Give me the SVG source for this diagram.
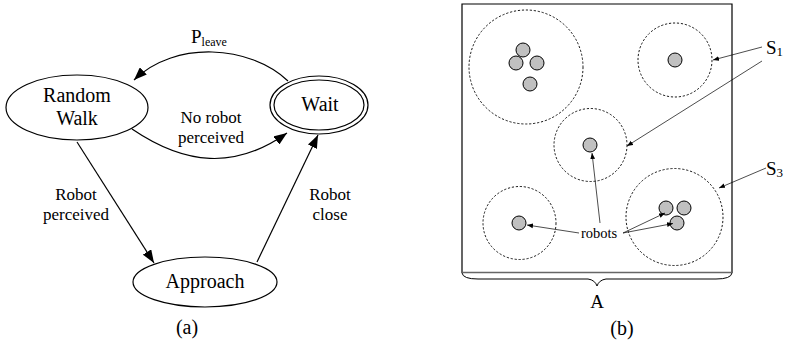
<svg xmlns="http://www.w3.org/2000/svg" width="786" height="350" viewBox="0 0 786 350">
  <style>
    .state { fill: #fff; stroke: #000; stroke-width: 1.2; }
    .lbl { font-family: 'Liberation Serif', 'Times New Roman', serif; fill: #000; }
    .edge { fill: none; stroke: #000; stroke-width: 1.2; }
    .thin { fill: none; stroke: #000; stroke-width: 0.7; }
    .zone { fill: none; stroke: #000; stroke-width: 0.9; stroke-dasharray: 2.2 1.8; }
    .robot { fill: #c0c0c0; stroke: #000; stroke-width: 1; }
  </style>
  <defs>
    <marker id="arr" markerUnits="userSpaceOnUse" markerWidth="14" markerHeight="10" refX="13" refY="5" orient="auto">
      <path d="M0,0 L13,5 L0,10 Z" fill="#000"/>
    </marker>
    <marker id="arrSmall" markerUnits="userSpaceOnUse" markerWidth="7" markerHeight="6" refX="6" refY="3" orient="auto">
      <path d="M0,0.6 L6,3 L0,5.4 Z" fill="#000"/>
    </marker>
  </defs>

  <rect width="786" height="350" fill="#fff"/>

  <!-- (a) state machine: transitions and their labels -->
  <g id="connectors-a">
    <path class="edge" d="M288,81 C250,45 175,40 134,80" marker-end="url(#arr)"/>
    <path class="edge" d="M132,129 C185,165 235,170 287,133" marker-end="url(#arr)"/>
    <path class="edge" d="M77,142 L154,263" marker-end="url(#arr)"/>
    <path class="edge" d="M257,262 L318,135" marker-end="url(#arr)"/>
    <text class="lbl" x="191" y="43" font-size="19">P<tspan font-size="12" dy="3">leave</tspan></text>
    <text class="lbl" x="211" y="123" font-size="17" text-anchor="middle">No robot</text>
    <text class="lbl" x="211" y="143" font-size="17" text-anchor="middle">perceived</text>
    <text class="lbl" x="76" y="200" font-size="17" text-anchor="middle">Robot</text>
    <text class="lbl" x="76" y="220" font-size="17" text-anchor="middle">perceived</text>
    <text class="lbl" x="330" y="200" font-size="17" text-anchor="middle">Robot</text>
    <text class="lbl" x="330" y="220" font-size="17" text-anchor="middle">close</text>
  </g>

  <g id="random-walk">
    <ellipse class="state" cx="77" cy="107.5" rx="71" ry="32.5"/>
    <text class="lbl" x="77" y="102" font-size="20" text-anchor="middle">Random</text>
    <text class="lbl" x="77" y="125" font-size="20" text-anchor="middle">Walk</text>
  </g>

  <g id="wait">
    <ellipse class="state" cx="319" cy="105" rx="49" ry="29"/>
    <ellipse class="state" cx="319" cy="105" rx="45" ry="25"/>
    <text class="lbl" x="320" y="111" font-size="20" text-anchor="middle">Wait</text>
  </g>

  <g id="approach">
    <ellipse class="state" cx="205" cy="282" rx="72" ry="25"/>
    <text class="lbl" x="205" y="288" font-size="20" text-anchor="middle">Approach</text>
  </g>

  <text class="lbl" x="187" y="334" font-size="20" text-anchor="middle">(a)</text>

  <!-- (b) arena with sensing zones -->
  <g id="arena">
    <path fill="none" stroke="#000" stroke-width="1.2" d="M462,273 L462,4 L732,4 L732,273"/>
    <line x1="462" y1="272.5" x2="732" y2="272.5" stroke="#666" stroke-width="1.6"/>
    <path fill="none" stroke="#000" stroke-width="1" d="M462,273 Q463,279 478,279 L588,279 Q595,280 597,286 Q599,280 606,279 L716,279 Q731,279 732,273"/>
    <text class="lbl" x="597" y="308" font-size="19" text-anchor="middle">A</text>
  </g>

  <g id="zone-large">
    <circle class="zone" cx="526" cy="67" r="57"/>
    <circle class="robot" cx="523" cy="50" r="7"/>
    <circle class="robot" cx="516" cy="63" r="7"/>
    <circle class="robot" cx="537" cy="63" r="7"/>
    <circle class="robot" cx="530" cy="84" r="7"/>
  </g>

  <g id="zone-top-right">
    <circle class="zone" cx="675" cy="60" r="37"/>
    <circle class="robot" cx="675" cy="60" r="7"/>
  </g>

  <g id="zone-middle">
    <circle class="zone" cx="590.5" cy="145" r="36.5"/>
    <circle class="robot" cx="590" cy="145" r="7"/>
  </g>

  <g id="zone-bottom-left">
    <circle class="zone" cx="519.5" cy="223" r="36.5"/>
    <circle class="robot" cx="519" cy="223" r="7"/>
  </g>

  <g id="zone-bottom-right">
    <circle class="zone" cx="674.5" cy="217" r="48.5"/>
    <circle class="robot" cx="666" cy="208" r="7"/>
    <circle class="robot" cx="684" cy="208" r="7"/>
    <circle class="robot" cx="677" cy="223" r="7"/>
  </g>

  <g id="connectors-b">
    <path class="thin" d="M600,223 L592,153" marker-end="url(#arrSmall)"/>
    <path class="thin" d="M579,233 L527,225" marker-end="url(#arrSmall)"/>
    <path class="thin" d="M623,233 L665,213" marker-end="url(#arrSmall)"/>
    <path class="thin" d="M623,233 L673,223.5" marker-end="url(#arrSmall)"/>
    <path class="thin" d="M762,47 L713,60" marker-end="url(#arrSmall)"/>
    <path class="thin" d="M762,61 L627,146" marker-end="url(#arrSmall)"/>
    <path class="thin" d="M766,168 L719,188" marker-end="url(#arrSmall)"/>
    <text class="lbl" x="599" y="238" font-size="14.5" text-anchor="middle">robots</text>
    <text class="lbl" x="766" y="54" font-size="19">S<tspan font-size="13" dy="2">1</tspan></text>
    <text class="lbl" x="766" y="175" font-size="19">S<tspan font-size="13" dy="2">3</tspan></text>
  </g>

  <text class="lbl" x="622" y="335" font-size="20" text-anchor="middle">(b)</text>
</svg>
